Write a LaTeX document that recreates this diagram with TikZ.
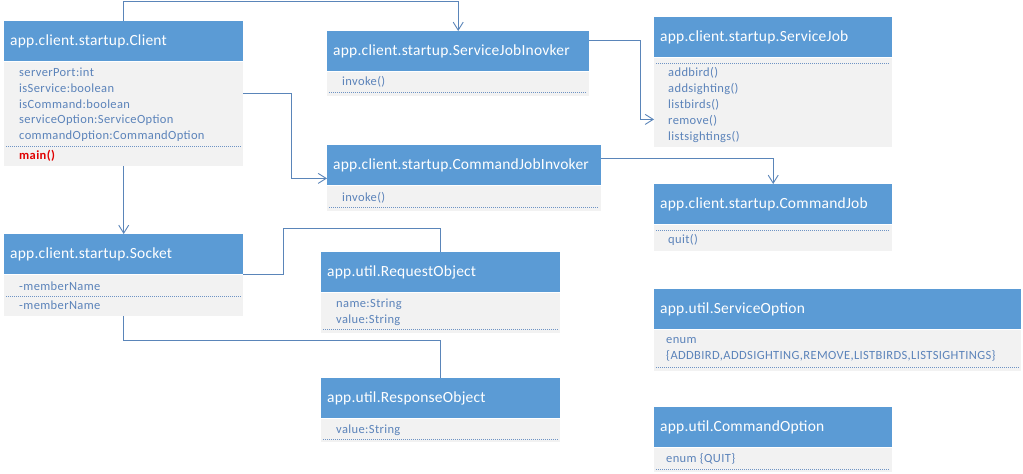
\documentclass[tikz,border=0pt]{standalone}
\usepackage{fontspec}
\setmainfont{Carlito}
\newfontfamily\hdrfont{Carlito}[LetterSpace=1.5]
\newfontfamily\memfont{Carlito}[LetterSpace=3]
\usetikzlibrary{arrows.meta,calc}
\definecolor{hblue}{HTML}{5B9BD5}
\definecolor{bfill}{HTML}{F2F2F2}
\definecolor{mtxt}{HTML}{5B83BA}
\definecolor{lcol}{HTML}{5A85B9}
\definecolor{dcol}{HTML}{6E93C4}
\definecolor{mred}{HTML}{E00000}
\begin{document}
\begin{tikzpicture}[x=1pt,y=-1pt,
  hdr/.style={fill=hblue, text=white, font=\hdrfont\fontsize{15.5}{18}\selectfont,
    anchor=north west, minimum height=40pt, inner xsep=6pt, inner ysep=0pt,
    align=left, text width=#1},
  bodybox/.style={fill=bfill, draw=none, anchor=north west, inner sep=0pt},
  mem/.style={text=mtxt, font=\memfont\fontsize{12.5}{15}\selectfont, anchor=west, inner sep=0pt},
  sep/.style={draw=dcol, line width=0.8pt, dash pattern=on 1pt off 1pt},
  conn/.style={draw=lcol, line width=0.9pt},
  arr/.style={-{Straight Barb[length=8pt,width=10pt,line width=0.9pt]}}]
\useasboundingbox (0,0) rectangle (1023,474);
\fill[white] (0,0) rectangle (1023,474);

% ---------- Client ----------
\node[hdr=227pt] (client) at (4,21) {app.client.startup.Client};
\node[bodybox, minimum width=239pt, minimum height=104pt] (clientb) at (client.south west) {};
\node[mem] (c1) at (19,72) {serverPort:int};
\node[mem] (c2) at (19,88) {isService:boolean};
\node[mem] (c3) at (19,104) {isCommand:boolean};
\node[mem] (c4) at (19,120) {serviceOption:ServiceOption};
\node[mem] (c5) at (19,136) {commandOption:CommandOption};
\draw[sep] (6,146) -- (241,146);
\node[mem, text=mred, font=\memfont\fontsize{12.5}{15}\selectfont\bfseries] (c6) at (19,156) {main()};

% ---------- ServiceJobInovker ----------
\node[hdr=250pt] (sji) at (327,31) {app.client.startup.ServiceJobInovker};
\node[bodybox, minimum width=262pt, minimum height=24pt] (sjib) at (sji.south west) {};
\node[mem] (s1) at (342,82) {invoke()};
\draw[sep] (329,92) -- (587,92);

% ---------- CommandJobInvoker ----------
\node[hdr=262pt] (cji) at (327,145) {app.client.startup.CommandJobInvoker};
\node[bodybox, minimum width=274pt, minimum height=25pt] (cjib) at (cji.south west) {};
\node[mem] (k1) at (342,198) {invoke()};
\draw[sep] (329,207) -- (599,207);

% ---------- ServiceJob ----------
\node[hdr=226pt] (sj) at (654,17) {app.client.startup.ServiceJob};
\node[bodybox, minimum width=238pt, minimum height=89pt] (sjb) at (sj.south west) {};
\draw[sep] (656,63) -- (890,63);
\node[mem] (j1) at (668,73) {addbird()};
\node[mem] (j2) at (668,89) {addsighting()};
\node[mem] (j3) at (668,105) {listbirds()};
\node[mem] (j4) at (668,121) {remove()};
\node[mem] (j5) at (668,137) {listsightings()};

% ---------- CommandJob ----------
\node[hdr=226pt] (cj) at (654,184) {app.client.startup.CommandJob};
\node[bodybox, minimum width=238pt, minimum height=26pt] (cjb) at (cj.south west) {};
\draw[sep] (656,230) -- (890,230);
\node[mem] (q1) at (668,240) {quit()};

% ---------- Socket ----------
\node[hdr=227pt] (socket) at (4,234) {app.client.startup.Socket};
\node[bodybox, minimum width=239pt, minimum height=41pt] (socketb) at (socket.south west) {};
\node[mem] (m1) at (19,286) {-memberName};
\draw[sep] (6,296) -- (241,296);
\node[mem] (m2) at (19,305) {-memberName};

% ---------- RequestObject ----------
\node[hdr=227pt] (req) at (321,252) {app.util.RequestObject};
\node[bodybox, minimum width=239pt, minimum height=40pt] (reqb) at (req.south west) {};
\node[mem] (r1) at (336,304) {name:String};
\node[mem] (r2) at (336,320) {value:String};
\draw[sep] (323,329) -- (558,329);

% ---------- ResponseObject ----------
\node[hdr=227pt] (resp) at (321,378) {app.util.ResponseObject};
\node[bodybox, minimum width=239pt, minimum height=23pt] (respb) at (resp.south west) {};
\node[mem] (p1) at (336,430) {value:String};
\draw[sep] (323,439) -- (558,439);

% ---------- ServiceOption ----------
\node[hdr=355pt] (so) at (654,289) {app.util.ServiceOption};
\node[bodybox, minimum width=367pt, minimum height=41pt] (sob) at (so.south west) {};
\node[mem] (o1) at (666,341) {enum};
\node[mem] (o2) at (666,356) {\{ADDBIRD,ADDSIGHTING,REMOVE,LISTBIRDS,LISTSIGHTINGS\}};
\draw[sep] (656,367) -- (1019,367);

% ---------- CommandOption ----------
\node[hdr=226pt] (co) at (654,407) {app.util.CommandOption};
\node[bodybox, minimum width=238pt, minimum height=24pt] (cob) at (co.south west) {};
\node[mem] (e1) at (666,459) {enum \{QUIT\}};
\draw[sep] (656,469) -- (890,469);

% ---------- Connectors ----------
\draw[conn, arr] (client.north) -- ++(0,-20) -| (sji.north);
\draw[conn, arr] ($(clientb.north east)+(0,32)$) -- ++(48,0) |- ($(cji.south west)+(0,-7)$);
\draw[conn, arr] ($(sji.north east)+(0,9)$) -- ++(51,0) |- ($(sjb.north west)+(0,62)$);
\draw[conn, arr] ($(cji.north east)+(0,13)$) -| (cj.north);
\draw[conn, arr] (clientb.south) -- (socket.north);
\draw[conn] (socket.south east) -- ++(40,0) -- ++(0,-46) -| (req.north);
\draw[conn] (socketb.south) -- ++(0,25) -| (resp.north);
\end{tikzpicture}
\end{document}
